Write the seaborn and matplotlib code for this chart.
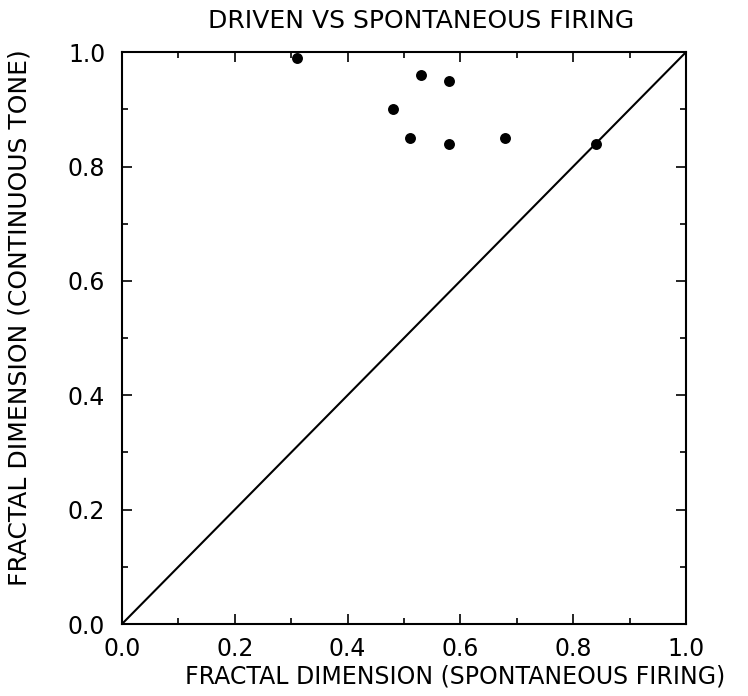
import numpy as np
import pandas as pd
import matplotlib
matplotlib.use("Agg")
import matplotlib.pyplot as plt
import seaborn as sns
from matplotlib.ticker import MultipleLocator

# data
spont_fd = [0.31, 0.53, 0.58, 0.48, 0.51, 0.58, 0.68, 0.84]
tone_fd = [0.99, 0.96, 0.95, 0.90, 0.85, 0.84, 0.85, 0.84]
diag = [0.0, 1.0]

sns.set_theme(style="ticks")
plt.rcParams['font.family'] = ['DejaVu Sans']
plt.rcParams['text.color'] = 'black'
plt.rcParams['axes.labelcolor'] = 'black'
plt.rcParams['xtick.color'] = 'black'
plt.rcParams['ytick.color'] = 'black'

df = pd.DataFrame({"spont": spont_fd, "tone": tone_fd})
line_df = pd.DataFrame({"x": diag, "y": diag})

fig = plt.figure(figsize=(7.48, 6.96), dpi=100)
ax = fig.add_axes([0.163, 0.1034, 0.754, 0.8216])

sns.lineplot(data=line_df, x="x", y="y", ax=ax, color="black", linewidth=1.5)
sns.scatterplot(data=df, x="spont", y="tone", ax=ax, color="black", s=62,
                edgecolor="black", linewidth=0, zorder=3, clip_on=False)

ax.set_xlim(0, 1)
ax.set_ylim(0, 1)
ax.xaxis.set_major_locator(MultipleLocator(0.2))
ax.yaxis.set_major_locator(MultipleLocator(0.2))
ax.xaxis.set_minor_locator(MultipleLocator(0.1))
ax.yaxis.set_minor_locator(MultipleLocator(0.1))
ax.xaxis.set_major_formatter(plt.FormatStrFormatter("%.1f"))
ax.yaxis.set_major_formatter(plt.FormatStrFormatter("%.1f"))
ax.tick_params(which="both", direction="in", top=True, right=True, width=1.2)
ax.tick_params(which="major", length=7, labelsize=17)
ax.tick_params(axis="x", which="major", pad=9)
ax.tick_params(axis="y", which="major", pad=12)
ax.tick_params(which="minor", length=4)
for sp in ax.spines.values():
    sp.set_visible(True)
    sp.set_linewidth(1.5)
    sp.set_color("black")

ax.set_xlabel("FRACTAL DIMENSION (SPONTANEOUS FIRING)", fontsize=17)
ax.xaxis.label.set_va("center")
ax.xaxis.set_label_coords(0.59, -0.092)
ax.set_ylabel("FRACTAL DIMENSION (CONTINUOUS TONE)", fontsize=18)
ax.yaxis.label.set_va("center")
ax.yaxis.set_label_coords(-0.181, 0.535)
ax.set_title("DRIVEN VS SPONTANEOUS FIRING", fontsize=18, x=0.53, y=1.055,
             va="center", pad=0)

plt.savefig("out.png", dpi=100)
plt.close()
